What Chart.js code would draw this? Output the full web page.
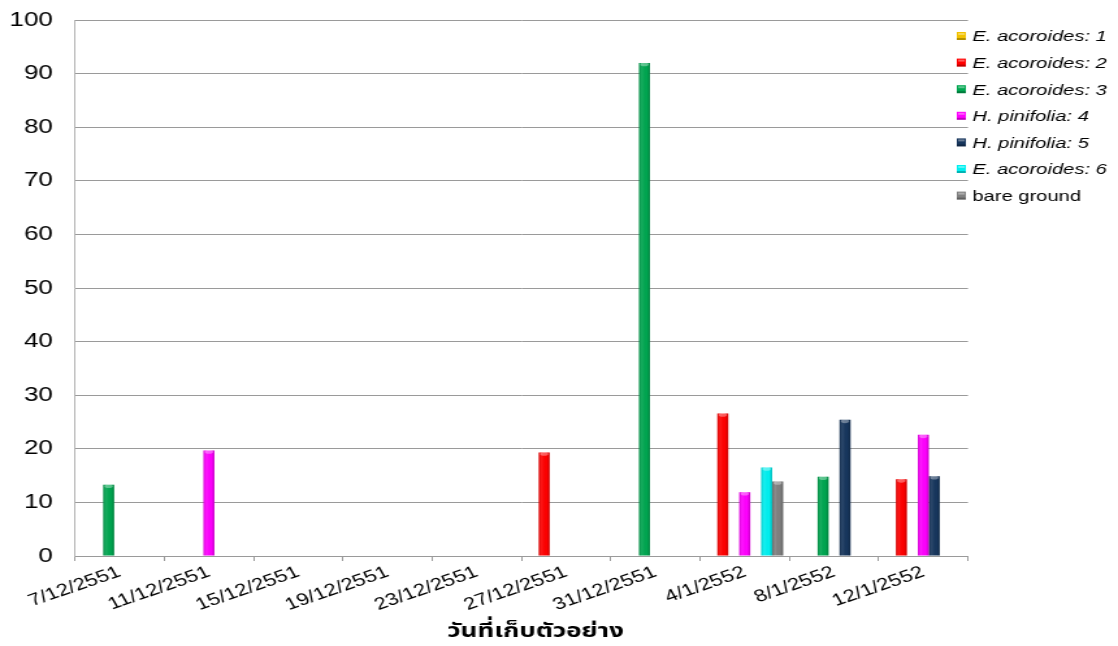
<!DOCTYPE html>
<html>
<head>
<meta charset="utf-8">
<script src="https://cdn.jsdelivr.net/npm/chart.js@4"></script>
<style>
  html, body { margin: 0; padding: 0; background: #fff; overflow: hidden; }
  #wrap { width: 860px; height: 646px; transform: scaleX(1.3); transform-origin: 0 0; }
  canvas { display: block; }
</style>
</head>
<body>
<div id="wrap"><canvas id="c" width="860" height="646" style="width:860px;height:646px"></canvas></div>
<script>
// Sampling dates (Thai Buddhist calendar)
const dates = ['7/12/2551', '11/12/2551', '15/12/2551', '19/12/2551', '23/12/2551',
               '27/12/2551', '31/12/2551', '4/1/2552', '8/1/2552', '12/1/2552'];

// Percentage values per station
const acoroides1 = [null, null, null, null, null, null, null, null, null, null];
const acoroides2 = [null, null, null, null, null, 19.3, null, 26.6, null, 14.3];
const acoroides3 = [13.3, null, null, null, null, null, 92.0, null, 14.8, null];
const pinifolia4 = [null, 19.7, null, null, null, null, null, 11.9, null, 22.6];
const pinifolia5 = [null, null, null, null, null, null, null, null, 25.4, 14.9];
const acoroides6 = [null, null, null, null, null, null, null, 16.5, null, null];
const bareGround = [null, null, null, null, null, null, null, 13.9, null, null];

const seriesLabels = ['E. acoroides: 1', 'E. acoroides: 2', 'E. acoroides: 3',
                      'H. pinifolia: 4', 'H. pinifolia: 5', 'E. acoroides: 6', 'bare ground'];
const seriesItalic = [true, true, true, true, true, true, false];
const seriesColors = ['#f2c200', '#ff0000', '#00a650', '#ff00ff', '#17365d', '#00f0f0', '#808080'];
const yTicks = [0, 10, 20, 30, 40, 50, 60, 70, 80, 90, 100];
const xTitle = 'วันที่เก็บตัวอย่าง';

const seriesValues = [acoroides1, acoroides2, acoroides3, pinifolia4, pinifolia5, acoroides6, bareGround];

const FONT = "'Liberation Sans', Arial, sans-serif";
const THAI_FONT = "'Noto Sans Thai', 'Tahoma', 'Loma', 'Garuda', 'DejaVu Sans', sans-serif";

// Cylinder-like shading on each bar: darker edges and a light cap
const barShade = {
  id: 'barShade',
  afterDatasetsDraw(chart) {
    const ctx = chart.ctx;
    chart.data.datasets.forEach((ds, i) => {
      const meta = chart.getDatasetMeta(i);
      meta.data.forEach((bar, j) => {
        if (ds.data[j] == null) return;
        const p = bar.getProps(['x', 'y', 'base', 'width'], true);
        const l = p.x - p.width / 2, r = p.x + p.width / 2;
        const g = ctx.createLinearGradient(l, 0, r, 0);
        g.addColorStop(0, 'rgba(0,0,0,0.18)');
        g.addColorStop(0.3, 'rgba(255,255,255,0.08)');
        g.addColorStop(0.7, 'rgba(0,0,0,0.0)');
        g.addColorStop(1, 'rgba(0,0,0,0.22)');
        ctx.save();
        ctx.fillStyle = g;
        ctx.fillRect(l, p.y, p.width, p.base - p.y);
        ctx.beginPath();
        ctx.ellipse(p.x, p.y + 1.5, p.width / 2 - 1, 1.8, 0, 0, Math.PI * 2);
        ctx.fillStyle = 'rgba(255,255,255,0.35)';
        ctx.fill();
        ctx.restore();
      });
    });
  }
};

// Legend on the right, overlapping the plot's right edge, and the x-axis title
const sideLegend = {
  id: 'sideLegend',
  afterDraw(chart) {
    const ctx = chart.ctx;
    const x0 = 736, y0 = 36, step = 26.6;
    ctx.save();
    chart.data.datasets.forEach((ds, i) => {
      const cy = y0 + i * step;
      ctx.fillStyle = ds.backgroundColor;
      ctx.fillRect(x0, cy - 4, 7, 8);
      ctx.fillStyle = 'rgba(0,0,0,0.25)';
      ctx.fillRect(x0, cy + 2, 7, 2);
      ctx.fillStyle = 'rgba(255,255,255,0.35)';
      ctx.fillRect(x0 + 1, cy - 3, 5, 2);
      ctx.fillStyle = '#000';
      ctx.textBaseline = 'middle';
      ctx.textAlign = 'left';
      ctx.font = (seriesItalic[i] ? 'italic ' : '') + '15.5px ' + FONT;
      ctx.fillText(ds.label, x0 + 12, cy + 1);
    });
    // x-axis title
    ctx.font = 'bold 20px ' + THAI_FONT;
    ctx.textAlign = 'center';
    ctx.textBaseline = 'middle';
    ctx.fillText(xTitle, 412, 633);
    ctx.restore();
  }
};

new Chart(document.getElementById('c'), {
  type: 'bar',
  data: {
    labels: dates,
    datasets: seriesValues.map((vals, i) => ({
      label: seriesLabels[i],
      data: vals,
      backgroundColor: seriesColors[i],
      borderWidth: 0,
      barPercentage: 1.0,
      categoryPercentage: 0.86
    }))
  },
  options: {
    responsive: false,
    animation: false,
    layout: { padding: { top: 20, right: 115.4, left: 0, bottom: 0 } },
    plugins: { legend: { display: false }, tooltip: { enabled: false } },
    scales: {
      x: {
        grid: { display: true, drawOnChartArea: false, drawTicks: true, tickLength: 5, color: '#9a9a9a', offset: true },
        border: { color: '#9a9a9a', width: 1 },
        ticks: { autoSkip: false, maxRotation: 24, minRotation: 24, padding: 1, color: '#000',
                 font: { family: FONT, size: 17 } },
        afterFit(scale) { scale.height = 90; }
      },
      y: {
        min: 0, max: 100,
        afterBuildTicks(scale) { scale.ticks = yTicks.map(v => ({ value: v })); },
        grid: { color: '#9a9a9a', drawTicks: true, tickLength: 17, tickColor: 'rgba(0,0,0,0)', lineWidth: 1 },
        border: { color: '#b0b0b0', width: 1 },
        ticks: { padding: 0, color: '#000', font: { family: FONT, size: 20 } },
        afterFit(scale) { scale.width = 57.7; }
      }
    }
  },
  plugins: [barShade, sideLegend]
});
</script>
</body>
</html>
